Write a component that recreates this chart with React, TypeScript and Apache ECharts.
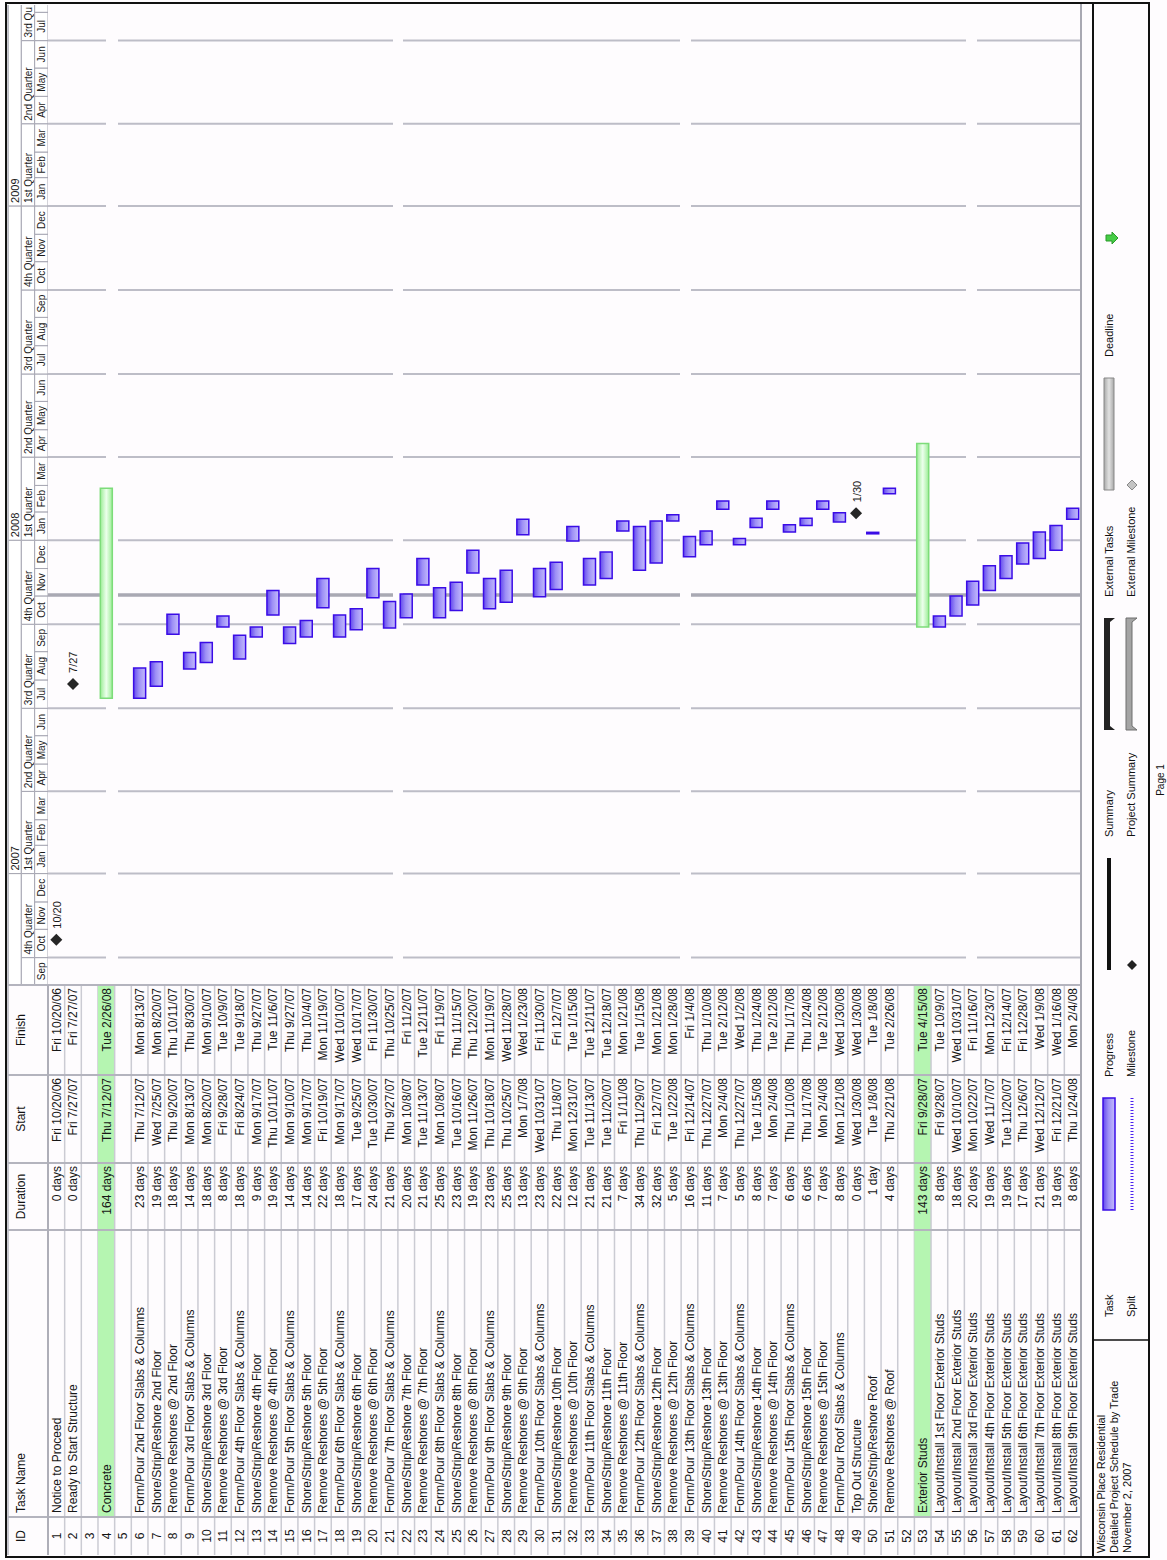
import React, { useEffect, useRef } from "react";
import * as echarts from "echarts";

// ---------------- data ----------------
const taskNames: string[] = [
  "Notice to Proceed",
  "Ready to Start Structure",
  "",
  "Concrete",
  "",
  "Form/Pour 2nd Floor Slabs & Columns",
  "Shore/Strip/Reshore 2nd Floor",
  "Remove Reshores @ 2nd Floor",
  "Form/Pour 3rd Floor Slabs & Columns",
  "Shore/Strip/Reshore 3rd Floor",
  "Remove Reshores @ 3rd Floor",
  "Form/Pour 4th Floor Slabs & Columns",
  "Shore/Strip/Reshore 4th Floor",
  "Remove Reshores @ 4th Floor",
  "Form/Pour 5th Floor Slabs & Columns",
  "Shore/Strip/Reshore 5th Floor",
  "Remove Reshores @ 5th Floor",
  "Form/Pour 6th Floor Slabs & Columns",
  "Shore/Strip/Reshore 6th Floor",
  "Remove Reshores @ 6th Floor",
  "Form/Pour 7th Floor Slabs & Columns",
  "Shore/Strip/Reshore 7th Floor",
  "Remove Reshores @ 7th Floor",
  "Form/Pour 8th Floor Slabs & Columns",
  "Shore/Strip/Reshore 8th Floor",
  "Remove Reshores @ 8th Floor",
  "Form/Pour 9th Floor Slabs & Columns",
  "Shore/Strip/Reshore 9th Floor",
  "Remove Reshores @ 9th Floor",
  "Form/Pour 10th Floor Slabs & Columns",
  "Shore/Strip/Reshore 10th Floor",
  "Remove Reshores @ 10th Floor",
  "Form/Pour 11th Floor Slabs & Columns",
  "Shore/Strip/Reshore 11th Floor",
  "Remove Reshores @ 11th Floor",
  "Form/Pour 12th Floor Slabs & Columns",
  "Shore/Strip/Reshore 12th Floor",
  "Remove Reshores @ 12th Floor",
  "Form/Pour 13th Floor Slabs & Columns",
  "Shore/Strip/Reshore 13th Floor",
  "Remove Reshores @ 13th Floor",
  "Form/Pour 14th Floor Slabs & Columns",
  "Shore/Strip/Reshore 14th Floor",
  "Remove Reshores @ 14th Floor",
  "Form/Pour 15th Floor Slabs & Columns",
  "Shore/Strip/Reshore 15th Floor",
  "Remove Reshores @ 15th Floor",
  "Form/Pour Roof Slabs & Columns",
  "Top Out Structure",
  "Shore/Strip/Reshore Roof",
  "Remove Reshores @ Roof",
  "",
  "Exterior Studs",
  "Layout/Install 1st Floor Exterior Studs",
  "Layout/Install 2nd Floor Exterior Studs",
  "Layout/Install 3rd Floor Exterior Studs",
  "Layout/Install 4th Floor Exterior Studs",
  "Layout/Install 5th Floor Exterior Studs",
  "Layout/Install 6th Floor Exterior Studs",
  "Layout/Install 7th Floor Exterior Studs",
  "Layout/Install 8th Floor Exterior Studs",
  "Layout/Install 9th Floor Exterior Studs",
];

const durations: string[] = [
  "0 days", "0 days", "", "164 days", "",
  "23 days", "19 days", "18 days", "14 days", "18 days", "8 days", "18 days", "9 days",
  "19 days", "14 days", "14 days", "22 days", "18 days", "17 days", "24 days", "21 days",
  "20 days", "21 days", "25 days", "23 days", "19 days", "23 days", "25 days", "13 days",
  "23 days", "22 days", "12 days", "21 days", "21 days", "7 days", "34 days", "32 days",
  "5 days", "16 days", "11 days", "7 days", "5 days", "8 days", "7 days", "6 days",
  "6 days", "7 days", "8 days", "0 days", "1 day", "4 days", "", "143 days",
  "8 days", "18 days", "20 days", "19 days", "19 days", "17 days", "21 days", "19 days", "8 days",
];

const startDates: string[] = [
  "Fri 10/20/06", "Fri 7/27/07", "", "Thu 7/12/07", "",
  "Thu 7/12/07", "Wed 7/25/07", "Thu 9/20/07", "Mon 8/13/07", "Mon 8/20/07", "Fri 9/28/07",
  "Fri 8/24/07", "Mon 9/17/07", "Thu 10/11/07", "Mon 9/10/07", "Mon 9/17/07", "Fri 10/19/07",
  "Mon 9/17/07", "Tue 9/25/07", "Tue 10/30/07", "Thu 9/27/07", "Mon 10/8/07", "Tue 11/13/07",
  "Mon 10/8/07", "Tue 10/16/07", "Mon 11/26/07", "Thu 10/18/07", "Thu 10/25/07", "Mon 1/7/08",
  "Wed 10/31/07", "Thu 11/8/07", "Mon 12/31/07", "Tue 11/13/07", "Tue 11/20/07", "Fri 1/11/08",
  "Thu 11/29/07", "Fri 12/7/07", "Tue 1/22/08", "Fri 12/14/07", "Thu 12/27/07", "Mon 2/4/08",
  "Thu 12/27/07", "Tue 1/15/08", "Mon 2/4/08", "Thu 1/10/08", "Thu 1/17/08", "Mon 2/4/08",
  "Mon 1/21/08", "Wed 1/30/08", "Tue 1/8/08", "Thu 2/21/08", "", "Fri 9/28/07",
  "Fri 9/28/07", "Wed 10/10/07", "Mon 10/22/07", "Wed 11/7/07", "Tue 11/20/07", "Thu 12/6/07",
  "Wed 12/12/07", "Fri 12/21/07", "Thu 1/24/08",
];

const finishDates: string[] = [
  "Fri 10/20/06", "Fri 7/27/07", "", "Tue 2/26/08", "",
  "Mon 8/13/07", "Mon 8/20/07", "Thu 10/11/07", "Thu 8/30/07", "Mon 9/10/07", "Tue 10/9/07",
  "Tue 9/18/07", "Thu 9/27/07", "Tue 11/6/07", "Thu 9/27/07", "Thu 10/4/07", "Mon 11/19/07",
  "Wed 10/10/07", "Wed 10/17/07", "Fri 11/30/07", "Thu 10/25/07", "Fri 11/2/07", "Tue 12/11/07",
  "Fri 11/9/07", "Thu 11/15/07", "Thu 12/20/07", "Mon 11/19/07", "Wed 11/28/07", "Wed 1/23/08",
  "Fri 11/30/07", "Fri 12/7/07", "Tue 1/15/08", "Tue 12/11/07", "Tue 12/18/07", "Mon 1/21/08",
  "Tue 1/15/08", "Mon 1/21/08", "Mon 1/28/08", "Fri 1/4/08", "Thu 1/10/08", "Tue 2/12/08",
  "Wed 1/2/08", "Thu 1/24/08", "Tue 2/12/08", "Thu 1/17/08", "Thu 1/24/08", "Tue 2/12/08",
  "Wed 1/30/08", "Wed 1/30/08", "Tue 1/8/08", "Tue 2/26/08", "", "Tue 4/15/08",
  "Tue 10/9/07", "Wed 10/31/07", "Fri 11/16/07", "Mon 12/3/07", "Fri 12/14/07", "Fri 12/28/07",
  "Wed 1/9/08", "Wed 1/16/08", "Mon 2/4/08",
];

const summaryIds = [4, 53];

const timelineStart = "9/1/06";
const timelineEnd = "8/9/09";
const statusDate = "11/2/07";
const headerYears = [2006, 2007, 2008, 2009];
const quarterNames = ["1st Quarter", "2nd Quarter", "3rd Quarter", "4th Quarter"];
const monthNames = ["Jan", "Feb", "Mar", "Apr", "May", "Jun", "Jul", "Aug", "Sep", "Oct", "Nov", "Dec"];

const columnTitles = ["ID", "Task Name", "Duration", "Start", "Finish"];
const titleLines = ["Wisconsin Place Residential", "Detailed Project Schedule by Trade", "November 2, 2007"];
const legendTop = ["Task", "Progress", "Summary", "External Tasks", "Deadline"];
const legendBottom = ["Split", "Milestone", "Project Summary", "External Milestone", ""];
const pageLabel = "Page 1";

// ---------------- helpers ----------------
const FONT = "'Liberation Sans', Arial, Helvetica, sans-serif";
const DAY = 86400000;
function toUTC(s: string): number {
  const tok = s.trim().split(" ");
  const [m, d, y] = tok[tok.length - 1].split("/").map(Number);
  return Date.UTC(2000 + y, m - 1, d);
}
const ORIGIN = toUTC(timelineStart);
const dayOf = (s: string) => Math.round((toUTC(s) - ORIGIN) / DAY);
const AXIS_MAX = dayOf(timelineEnd);
const yy = (v: number) => String(v % 100).padStart(2, "0");
const firstOf = (m: number, y: number) => dayOf(`${m}/1/${yy(y)}`);

// approximate Arial glyph widths (em) for fitting header labels into partial cells
function textWidth(t: string, size: number): number {
  let w = 0;
  for (const ch of t) {
    if (ch === " ") w += 0.278;
    else if (/[0-9]/.test(ch)) w += 0.556;
    else if (/[A-Z]/.test(ch)) w += ch === "Q" ? 0.778 : 0.667;
    else if (/[iltfr]/.test(ch)) w += 0.3;
    else w += 0.556;
  }
  return w * size;
}
function fitLabel(t: string, size: number, avail: number): string {
  let s = t;
  while (s.length > 0 && textWidth(s, size) > avail) s = s.slice(0, -1);
  return s.trimEnd();
}

// layout (landscape page, rotated on screen)
const PAGE_W = 1560;
const PAGE_H = 1167;
const TABLE_L = 5;
const TABLE_COLS = [0, 38, 325, 392, 480, 570];
const GANTT_L = 575;
const GANTT_W = 980;
const HEAD_T = 8;
const ROWS_T = 48;
const ROWS_H = 1033;
const LEG_T = 1093;
const LEG_B = 1149;
const GAPS = [[106, 118], [393, 403], [680, 691], [966, 977]];

const taskFill = {
  type: "linear", x: 0, y: 0, x2: 0, y2: 1,
  colorStops: [
    { offset: 0, color: "#6248ee" },
    { offset: 0.45, color: "#9d8ff6" },
    { offset: 1, color: "#c5bcfd" },
  ],
};
const sumFill = {
  type: "linear", x: 0, y: 0, x2: 0, y2: 1,
  colorStops: [
    { offset: 0, color: "#9ced96" },
    { offset: 0.5, color: "#ecffec" },
    { offset: 1, color: "#9ced96" },
  ],
};
const extFill = {
  type: "linear", x: 0, y: 0, x2: 0, y2: 1,
  colorStops: [
    { offset: 0, color: "#a8a8a8" },
    { offset: 0.5, color: "#e2e2e2" },
    { offset: 1, color: "#a8a8a8" },
  ],
};

function buildOption() {
  const rows = taskNames.map((_, i) => String(i + 1));

  const barData: number[][] = [];
  const msData: number[][] = [];
  const msLabels: string[] = [];
  taskNames.forEach((_, i) => {
    if (!startDates[i]) return;
    if (durations[i] === "0 days") {
      msData.push([dayOf(startDates[i]) + 0.6, i]);
      const p = startDates[i].split(" ").pop()!.split("/");
      msLabels.push(`${p[0]}/${p[1]}`);
    } else {
      barData.push([
        dayOf(startDates[i]),
        dayOf(finishDates[i]) + 1,
        i,
        summaryIds.includes(i + 1) ? 1 : 0,
      ]);
    }
  });

  const headCells: number[][] = [];
  const headLabels: string[] = [];
  headerYears.forEach((y) => {
    headCells.push([firstOf(1, y), firstOf(1, y + 1), 0]);
    headLabels.push(String(y));
    for (let q = 0; q < 4; q++) {
      headCells.push([firstOf(3 * q + 1, y), q === 3 ? firstOf(1, y + 1) : firstOf(3 * q + 4, y), 1]);
      headLabels.push(quarterNames[q]);
    }
    for (let m = 0; m < 12; m++) {
      headCells.push([firstOf(m + 1, y), m === 11 ? firstOf(1, y + 1) : firstOf(m + 2, y), 2]);
      headLabels.push(monthNames[m]);
    }
  });
  const visCells: number[][] = [];
  const visLabels: string[] = [];
  headCells.forEach((c, k) => {
    if (c[1] > 0 && c[0] < AXIS_MAX) {
      visCells.push(c);
      visLabels.push(headLabels[k]);
    }
  });

  const gridLineData: number[][] = headCells
    .filter((c) => c[2] === 1 && c[0] > 0 && c[0] < AXIS_MAX)
    .map((c) => [c[0], 0]);
  gridLineData.push([dayOf(statusDate), 1]);

  // ---------- static graphic ----------
  const g: any[] = [];
  const L = (x1: number, y1: number, x2: number, y2: number, stroke: string, w: number, z = 30) => ({
    type: "line", silent: true, z, shape: { x1, y1, x2, y2 }, style: { stroke, lineWidth: w },
  });
  const T = (x: number, y: number, text: string, size = 11, align = "left", fill = "#111") => ({
    type: "text", silent: true, z: 40, x, y,
    style: { text, fontFamily: FONT, fontSize: size, fill, align, verticalAlign: "middle" },
  });
  g.push({ type: "rect", silent: true, z: -10, shape: { x: 0, y: 0, width: PAGE_W, height: PAGE_H }, style: { fill: "#fefcfe" } });

  // table header texts
  const colL = (k: number) => TABLE_L + TABLE_COLS[k];
  const colC = (k: number) => TABLE_L + (TABLE_COLS[k] + TABLE_COLS[k + 1]) / 2;
  g.push(T(colC(0), 21, columnTitles[0], 12, "center"));
  g.push(T(colL(1) + 4, 21, columnTitles[1], 12, "left"));
  g.push(T(colC(2), 21, columnTitles[2], 12, "center"));
  g.push(T(colC(3), 21, columnTitles[3], 12, "center"));
  g.push(T(colC(4), 21, columnTitles[4], 12, "center"));

  // table lines
  for (let k = 1; k < TABLE_COLS.length; k++) {
    g.push(L(colL(k), HEAD_T, colL(k), ROWS_T + ROWS_H, "#b4b4be", 2));
  }
  g.push(L(TABLE_L, ROWS_T, GANTT_L, ROWS_T, "#aeaeb8", 2));
  g.push(L(TABLE_L, HEAD_T, GANTT_L + GANTT_W, HEAD_T, "#b4b4be", 1.5));
  g.push(L(3, ROWS_T + ROWS_H, PAGE_W - 3, ROWS_T + ROWS_H, "#a8a8b2", 2));

  // frame + legend box
  g.push({ type: "rect", silent: true, z: 50, shape: { x: 3, y: 6, width: PAGE_W - 6, height: LEG_B - 6 }, style: { fill: "none", stroke: "#111", lineWidth: 2 } });
  g.push(L(3, LEG_T, PAGE_W - 3, LEG_T, "#111", 2, 50));
  g.push(L(220, LEG_T, 220, LEG_B, "#111", 1.5, 50));

  titleLines.forEach((t, k) => g.push(T(7, 1101 + k * 13, t, 11)));

  const legCols = [243, 483, 723, 963, 1203];
  const rowY = [1109, 1131];
  legendTop.forEach((t, k) => t && g.push(T(legCols[k], rowY[0], t, 11)));
  legendBottom.forEach((t, k) => t && g.push(T(legCols[k], rowY[1], t, 11)));
  const sx = (k: number) => legCols[k] + 107;
  const ex = (k: number) => legCols[k] + 219;
  // Task
  g.push({ type: "rect", silent: true, z: 40, shape: { x: sx(0), y: 1103, width: 112, height: 12 }, style: { fill: taskFill, stroke: "#3a0ce6", lineWidth: 1.5 } });
  // Split
  g.push({ type: "line", silent: true, z: 40, shape: { x1: sx(0), y1: 1132, x2: ex(0), y2: 1132 }, style: { stroke: "#4b20f0", lineWidth: 3, lineDash: [1, 2] } });
  // Progress
  g.push({ type: "rect", silent: true, z: 40, shape: { x: sx(1), y: 1107, width: 112, height: 4 }, style: { fill: "#111" } });
  // Milestone
  const dia = (cx: number, cy: number, r: number) => [[cx, cy - r], [cx + r, cy], [cx, cy + r], [cx - r, cy]];
  g.push({ type: "polygon", silent: true, z: 40, shape: { points: dia(sx(1) + 5, 1132, 5) }, style: { fill: "#222" } });
  // Summary / Project summary
  const sumPts = (x1: number, x2: number, y: number) => [[x1, y], [x2, y], [x2, y + 11], [x2 - 4, y + 6], [x1 + 4, y + 6], [x1, y + 11]];
  g.push({ type: "polygon", silent: true, z: 40, shape: { points: sumPts(sx(2), ex(2), 1104) }, style: { fill: "#222" } });
  g.push({ type: "polygon", silent: true, z: 40, shape: { points: sumPts(sx(2), ex(2), 1126) }, style: { fill: "#a4a4a4", stroke: "#6e6e6e", lineWidth: 1 } });
  // External tasks / milestone
  g.push({ type: "rect", silent: true, z: 40, shape: { x: sx(3), y: 1104, width: 112, height: 10 }, style: { fill: extFill, stroke: "#888", lineWidth: 1 } });
  g.push({ type: "polygon", silent: true, z: 40, shape: { points: dia(sx(3) + 5, 1132, 5) }, style: { fill: "#c4c4c4", stroke: "#888", lineWidth: 1 } });
  // Deadline arrow
  const ax = sx(4) + 12, ay = 1112;
  g.push({
    type: "polygon", silent: true, z: 40,
    shape: { points: [[ax - 3, ay - 6], [ax + 3, ay - 6], [ax + 3, ay], [ax + 6, ay], [ax, ay + 6], [ax - 6, ay], [ax - 3, ay]] },
    style: { fill: "#46cc46", stroke: "#2a9a2a", lineWidth: 1 },
  });

  g.push(T(PAGE_W / 2, 1160, pageLabel, 10, "center"));

  return {
    animation: false,
    backgroundColor: "transparent",
    graphic: { elements: g },
    grid: [
      { left: GANTT_L, top: ROWS_T, width: GANTT_W, height: ROWS_H },
      { left: GANTT_L, top: HEAD_T, width: GANTT_W, height: ROWS_T - HEAD_T },
      { left: TABLE_L, top: ROWS_T, width: TABLE_COLS[5], height: ROWS_H },
    ],
    xAxis: [
      { gridIndex: 0, type: "value", min: 0, max: AXIS_MAX, show: false },
      { gridIndex: 1, type: "value", min: 0, max: AXIS_MAX, show: false },
      { gridIndex: 2, type: "value", min: 0, max: TABLE_COLS[5], show: false },
    ],
    yAxis: [
      { gridIndex: 0, type: "category", data: rows, inverse: true, show: false },
      { gridIndex: 1, type: "value", min: 0, max: 3, inverse: true, show: false },
      { gridIndex: 2, type: "category", data: rows, inverse: true, show: false },
    ],
    series: [
      // table body
      {
        type: "custom",
        xAxisIndex: 2,
        yAxisIndex: 2,
        data: rows.map((_, i) => [0, i]),
        encode: { x: 0, y: 1 },
        silent: true,
        z: 1,
        renderItem: (params: any, api: any) => {
          const i = params.dataIndex;
          const x0 = params.coordSys.x;
          const yc = api.coord([0, i])[1];
          const h = api.size([0, 1])[1];
          const kids: any[] = [];
          if (summaryIds.includes(i + 1)) {
            kids.push({ type: "rect", shape: { x: x0 + TABLE_COLS[1], y: yc - h / 2, width: TABLE_COLS[5] - TABLE_COLS[1], height: h }, style: { fill: "#b5f5b1" } });
          }
          kids.push({ type: "line", shape: { x1: x0, y1: yc + h / 2, x2: x0 + TABLE_COLS[5], y2: yc + h / 2 }, style: { stroke: "#cbcbd3", lineWidth: 1.5 } });
          const txt = (x: number, text: string, align: string) => ({
            type: "text", x, y: yc + 0.5,
            style: { text, fontFamily: FONT, fontSize: 12, fill: "#161616", align, verticalAlign: "middle" },
          });
          kids.push(txt(x0 + (TABLE_COLS[0] + TABLE_COLS[1]) / 2, rows[i], "center"));
          if (taskNames[i]) kids.push(txt(x0 + TABLE_COLS[1] + 4, taskNames[i], "left"));
          if (durations[i]) kids.push(txt(x0 + TABLE_COLS[3] - 3, durations[i], "right"));
          if (startDates[i]) kids.push(txt(x0 + TABLE_COLS[4] - 3, startDates[i], "right"));
          if (finishDates[i]) kids.push(txt(x0 + TABLE_COLS[5] - 3, finishDates[i], "right"));
          return { type: "group", children: kids };
        },
      },
      // timeline header
      {
        type: "custom",
        xAxisIndex: 1,
        yAxisIndex: 1,
        data: visCells,
        encode: { x: [0, 1], y: 2 },
        clip: true,
        silent: true,
        renderItem: (params: any, api: any) => {
          const cs = params.coordSys;
          const s = api.value(0), e = api.value(1), lvl = api.value(2);
          const p0 = api.coord([s, lvl]);
          const p1 = api.coord([e, lvl + 1]);
          const visL = Math.max(p0[0], cs.x);
          const visR = Math.min(p1[0], cs.x + cs.width);
          const size = lvl === 0 ? 11 : 10;
          const centered = lvl === 2;
          const kids: any[] = [
            { type: "rect", shape: { x: p0[0], y: p0[1], width: p1[0] - p0[0], height: p1[1] - p0[1] }, style: { fill: "#ffffff", stroke: "#a6a6b2", lineWidth: 1 } },
          ];
          let label = visLabels[params.dataIndex];
          let tx = 0;
          let align = "left";
          if (centered) {
            if (textWidth(label, size) > visR - visL - 2) label = "";
            tx = (visL + visR) / 2;
            align = "center";
          } else {
            if (p0[0] < cs.x - 0.5) label = "";
            tx = p0[0] + 3;
            label = fitLabel(label, size, visR - tx - 2);
          }
          if (label) {
            kids.push({
              type: "text",
              x: tx,
              y: (p0[1] + p1[1]) / 2 + 0.5,
              style: { text: label, fontFamily: FONT, fontSize: size, fill: "#1a1a1a", align, verticalAlign: "middle" },
            });
          }
          return { type: "group", children: kids };
        },
      },
      // quarter grid lines + status date line
      {
        type: "custom",
        xAxisIndex: 0,
        yAxisIndex: 0,
        data: gridLineData,
        encode: { x: 0 },
        silent: true,
        z: 1,
        renderItem: (params: any, api: any) => {
          const x = api.coord([api.value(0), 0])[0];
          const cs = params.coordSys;
          const status = api.value(1) === 1;
          const segs: number[][] = [];
          let y = cs.y;
          GAPS.forEach(([a, b]) => { segs.push([y, a]); y = b; });
          segs.push([y, cs.y + cs.height]);
          return {
            type: "group",
            children: segs.map(([a, b]) => ({
              type: "line",
              shape: { x1: x, y1: a, x2: x, y2: b },
              style: { stroke: status ? "#a9a9b3" : "#bdbdc7", lineWidth: status ? 3.5 : 2 },
            })),
          };
        },
      },
      // task & summary bars
      {
        type: "custom",
        xAxisIndex: 0,
        yAxisIndex: 0,
        data: barData,
        encode: { x: [0, 1], y: 2 },
        silent: true,
        z: 5,
        renderItem: (params: any, api: any) => {
          const a = api.coord([api.value(0), api.value(2)]);
          const b = api.coord([api.value(1), api.value(2)]);
          const summary = api.value(3) === 1;
          const hh = 12;
          return {
            type: "rect",
            shape: { x: a[0], y: a[1] - hh / 2, width: Math.max(1.5, b[0] - a[0]), height: hh },
            style: summary
              ? { fill: sumFill, stroke: "#7ddc7a", lineWidth: 1.5 }
              : { fill: taskFill, stroke: "#3a0ce6", lineWidth: 1.5 },
          };
        },
      },
      // milestones
      {
        type: "custom",
        xAxisIndex: 0,
        yAxisIndex: 0,
        data: msData,
        encode: { x: 0, y: 1 },
        silent: true,
        z: 6,
        renderItem: (params: any, api: any) => {
          const p = api.coord([api.value(0), api.value(1)]);
          const r = 6;
          return {
            type: "group",
            children: [
              { type: "polygon", shape: { points: [[p[0], p[1] - r], [p[0] + r, p[1]], [p[0], p[1] + r], [p[0] - r, p[1]]] }, style: { fill: "#262626" } },
              { type: "text", x: p[0] + 11, y: p[1] + 0.5, style: { text: msLabels[params.dataIndex], fontFamily: FONT, fontSize: 11, fill: "#1a1a1a", align: "left", verticalAlign: "middle" } },
            ],
          };
        },
      },
    ],
  };
}

export default function App() {
  const ref = useRef<HTMLDivElement>(null);
  useEffect(() => {
    if (!ref.current) return;
    const chart = echarts.init(ref.current, null, { renderer: "svg" });
    chart.setOption(buildOption() as any);
    return () => chart.dispose();
  }, []);
  return (
    <div
      style={{
        position: "absolute",
        left: 0,
        top: 0,
        width: PAGE_H,
        height: PAGE_W,
        overflow: "hidden",
        background: "#fefcfe",
      }}
    >
      <div
        ref={ref}
        style={{
          position: "absolute",
          left: 0,
          top: 0,
          width: PAGE_W,
          height: PAGE_H,
          transformOrigin: "0 0",
          transform: `translateY(${PAGE_W}px) rotate(-90deg)`,
        }}
      />
    </div>
  );
}
